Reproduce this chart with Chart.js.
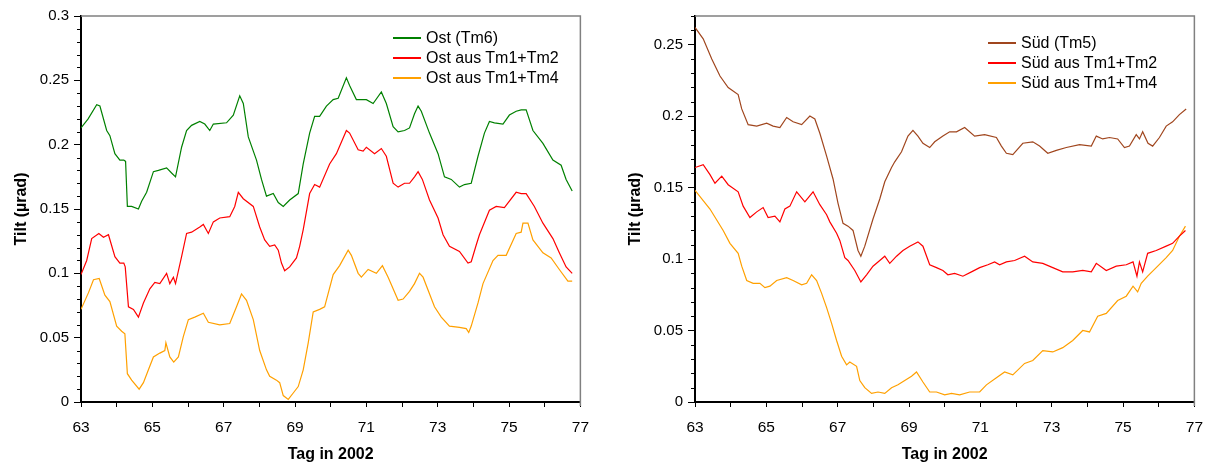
<!DOCTYPE html>
<html>
<head>
<meta charset="utf-8">
<script src="https://cdn.jsdelivr.net/npm/chart.js@4.4.1/dist/chart.umd.min.js"></script>
<style>
  body { margin: 0; background: #fff; width: 1215px; height: 466px; position: relative; overflow: hidden;
         font-family: "Liberation Sans", Arial, sans-serif; }
  canvas { position: absolute; top: 0; }
  #ostChart { left: 0; }
  #suedChart { left: 614px; }
  .legend { position: absolute; font-size: 16px; color: #000; }
  .legend div { position: relative; height: 20px; line-height: 20px; padding-left: 33px; white-space: nowrap; }
  .legend span { position: absolute; left: 0; top: 9px; width: 28px; height: 2px; }
</style>
</head>
<body>
<canvas id="ostChart" width="600" height="466"></canvas>
<canvas id="suedChart" width="600" height="466"></canvas>
<div class="legend" id="ostLegend" style="left:393px; top:28px"></div>
<div class="legend" id="suedLegend" style="left:988px; top:33px"></div>
<script>
// --- Ost (left panel) ---
const ostTm6Days = [
  63.0, 63.2, 63.44, 63.53, 63.72, 63.81, 63.95, 64.09, 64.2, 64.25,
  64.3, 64.42, 64.61, 64.7, 64.84, 65.03, 65.17, 65.4, 65.54, 65.65,
  65.82, 65.96, 66.1, 66.33, 66.47, 66.61, 66.71, 67.08, 67.27, 67.45,
  67.55, 67.69, 67.92, 68.06, 68.2, 68.39, 68.53, 68.67, 68.85, 69.09,
  69.23, 69.41, 69.55, 69.69, 69.88, 70.07, 70.21, 70.44, 70.53, 70.72,
  71.0, 71.19, 71.42, 71.56, 71.75, 71.89, 72.07, 72.21, 72.35, 72.45,
  72.54, 72.77, 73.01, 73.19, 73.38, 73.61, 73.75, 73.94, 74.13, 74.31,
  74.45, 74.59, 74.83, 75.01, 75.2, 75.34, 75.48, 75.67, 75.95, 76.23,
  76.46, 76.6, 76.77
];
const ostTm6 = [
  0.213, 0.220, 0.231, 0.230, 0.211, 0.207, 0.193, 0.188, 0.188, 0.187,
  0.152, 0.152, 0.150, 0.156, 0.163, 0.179, 0.180, 0.182, 0.178, 0.175,
  0.198, 0.211, 0.215, 0.218, 0.216, 0.211, 0.216, 0.217, 0.223, 0.238,
  0.232, 0.206, 0.188, 0.173, 0.160, 0.162, 0.155, 0.152, 0.157, 0.162,
  0.185, 0.209, 0.222, 0.222, 0.230, 0.235, 0.236, 0.252, 0.246, 0.235,
  0.235, 0.232, 0.241, 0.232, 0.214, 0.210, 0.211, 0.213, 0.224, 0.230,
  0.226, 0.209, 0.193, 0.175, 0.173, 0.167, 0.169, 0.170, 0.191, 0.209,
  0.218, 0.217, 0.216, 0.223, 0.226, 0.227, 0.227, 0.211, 0.201, 0.188,
  0.184, 0.173, 0.164
];

const ostTm12Days = [
  63.0, 63.16, 63.3, 63.5, 63.63, 63.77, 63.95, 64.09, 64.2, 64.24,
  64.33, 64.47, 64.61, 64.75, 64.93, 65.07, 65.21, 65.4, 65.49, 65.59,
  65.65, 65.82, 65.96, 66.1, 66.33, 66.43, 66.57, 66.71, 66.89, 67.17,
  67.31, 67.41, 67.55, 67.83, 68.01, 68.15, 68.29, 68.43, 68.53, 68.62,
  68.71, 68.85, 69.04, 69.13, 69.23, 69.41, 69.55, 69.69, 69.97, 70.16,
  70.44, 70.53, 70.77, 70.91, 71.0, 71.23, 71.42, 71.56, 71.75, 71.89,
  72.07, 72.21, 72.35, 72.45, 72.57, 72.77, 73.01, 73.15, 73.33, 73.61,
  73.85, 73.94, 74.08, 74.17, 74.45, 74.64, 74.87, 75.2, 75.34, 75.48,
  75.71, 75.95, 76.23, 76.41, 76.6, 76.77
];
const ostTm12 = [
  0.099, 0.110, 0.127, 0.131, 0.128, 0.130, 0.113, 0.108, 0.108, 0.105,
  0.074, 0.072, 0.066, 0.077, 0.088, 0.093, 0.092, 0.100, 0.092, 0.097,
  0.092, 0.113, 0.131, 0.132, 0.136, 0.138, 0.131, 0.140, 0.143, 0.144,
  0.152, 0.163, 0.158, 0.152, 0.136, 0.126, 0.121, 0.122, 0.118, 0.108,
  0.102, 0.105, 0.112, 0.121, 0.134, 0.162, 0.169, 0.167, 0.185, 0.193,
  0.211, 0.209, 0.196, 0.195, 0.198, 0.193, 0.197, 0.191, 0.170, 0.167,
  0.170, 0.170, 0.175, 0.179, 0.173, 0.157, 0.143, 0.130, 0.121, 0.117,
  0.108, 0.109, 0.122, 0.130, 0.149, 0.152, 0.151, 0.163, 0.162, 0.162,
  0.152, 0.139, 0.127, 0.116, 0.105, 0.100
];

const ostTm14Days = [
  63.0, 63.21, 63.35, 63.51, 63.67, 63.81, 64.0, 64.14, 64.23, 64.3,
  64.42, 64.63, 64.75, 64.89, 65.03, 65.21, 65.35, 65.38, 65.49, 65.6,
  65.73, 65.87, 66.01, 66.19, 66.43, 66.57, 66.89, 67.17, 67.36, 67.5,
  67.64, 67.83, 68.01, 68.2, 68.29, 68.48, 68.57, 68.67, 68.81, 68.95,
  69.09, 69.23, 69.37, 69.51, 69.69, 69.83, 70.07, 70.25, 70.49, 70.58,
  70.77, 70.86, 71.05, 71.28, 71.45, 71.61, 71.89, 72.03, 72.21, 72.35,
  72.49, 72.59, 72.91, 73.1, 73.33, 73.61, 73.8, 73.87, 73.94, 74.13,
  74.27, 74.55, 74.69, 74.92, 75.2, 75.34, 75.39, 75.53, 75.67, 75.95,
  76.18, 76.41, 76.65, 76.77
];
const ostTm14 = [
  0.072, 0.085, 0.095, 0.096, 0.083, 0.078, 0.059, 0.055, 0.053, 0.022,
  0.017, 0.010, 0.015, 0.025, 0.035, 0.038, 0.040, 0.046, 0.035, 0.031,
  0.035, 0.051, 0.064, 0.066, 0.069, 0.062, 0.060, 0.061, 0.074, 0.084,
  0.079, 0.064, 0.040, 0.025, 0.020, 0.017, 0.015, 0.005, 0.002, 0.007,
  0.012, 0.025, 0.046, 0.070, 0.072, 0.074, 0.099, 0.106, 0.118, 0.114,
  0.100, 0.097, 0.103, 0.100, 0.106, 0.097, 0.079, 0.080, 0.086, 0.092,
  0.100, 0.097, 0.074, 0.066, 0.059, 0.058, 0.057, 0.054, 0.059, 0.077,
  0.092, 0.110, 0.114, 0.114, 0.131, 0.132, 0.139, 0.139, 0.126, 0.116,
  0.112, 0.103, 0.094, 0.094
];

// --- Süd (right panel) ---
const suedTm5Days = [
  63.0, 63.23, 63.47, 63.7, 63.93, 64.21, 64.31, 64.49, 64.73, 65.01,
  65.19, 65.38, 65.57, 65.75, 65.99, 66.22, 66.36, 66.5, 66.69, 66.87,
  67.01, 67.15, 67.29, 67.43, 67.57, 67.65, 67.76, 67.99, 68.18, 68.32,
  68.51, 68.6, 68.79, 68.97, 69.11, 69.25, 69.39, 69.58, 69.72, 69.95,
  70.14, 70.33, 70.56, 70.84, 71.12, 71.45, 71.59, 71.73, 71.91, 72.19,
  72.47, 72.66, 72.89, 73.13, 73.41, 73.78, 74.11, 74.25, 74.43, 74.62,
  74.85, 75.04, 75.18, 75.37, 75.46, 75.55, 75.7, 75.83, 76.02, 76.21,
  76.39, 76.58, 76.77
];
const suedTm5 = [
  0.262, 0.254, 0.240, 0.228, 0.220, 0.215, 0.205, 0.194, 0.193, 0.195,
  0.193, 0.192, 0.199, 0.196, 0.194, 0.200, 0.198, 0.188, 0.172, 0.156,
  0.139, 0.125, 0.123, 0.120, 0.106, 0.102, 0.109, 0.128, 0.142, 0.154,
  0.164, 0.168, 0.175, 0.186, 0.190, 0.186, 0.181, 0.178, 0.182, 0.186,
  0.189, 0.189, 0.192, 0.186, 0.187, 0.185, 0.179, 0.174, 0.173, 0.181,
  0.182, 0.179, 0.174, 0.176, 0.178, 0.180, 0.179, 0.186, 0.184, 0.185,
  0.184, 0.178, 0.179, 0.187, 0.184, 0.189, 0.181, 0.179, 0.185, 0.193,
  0.196, 0.201, 0.205
];

const suedTm12Days = [
  63.0, 63.23, 63.42, 63.56, 63.75, 63.93, 64.21, 64.35, 64.54, 64.73,
  64.91, 65.05, 65.24, 65.38, 65.52, 65.66, 65.85, 66.08, 66.31, 66.5,
  66.69, 66.78, 66.97, 67.06, 67.2, 67.29, 67.48, 67.65, 67.81, 67.99,
  68.18, 68.32, 68.46, 68.65, 68.83, 69.02, 69.25, 69.39, 69.58, 69.77,
  69.95, 70.09, 70.28, 70.51, 70.75, 70.98, 71.21, 71.4, 71.54, 71.73,
  71.96, 72.24, 72.47, 72.75, 73.03, 73.31, 73.59, 73.87, 74.11, 74.25,
  74.53, 74.81, 75.09, 75.28, 75.39, 75.46, 75.55, 75.69, 75.93, 76.21,
  76.39, 76.58, 76.75
];
const suedTm12 = [
  0.164, 0.166, 0.159, 0.153, 0.158, 0.152, 0.147, 0.137, 0.129, 0.133,
  0.136, 0.129, 0.130, 0.126, 0.135, 0.137, 0.147, 0.140, 0.147, 0.138,
  0.131, 0.126, 0.118, 0.113, 0.101, 0.099, 0.092, 0.084, 0.089, 0.095,
  0.099, 0.102, 0.097, 0.102, 0.106, 0.109, 0.112, 0.109, 0.096, 0.094,
  0.092, 0.089, 0.090, 0.088, 0.091, 0.094, 0.096, 0.098, 0.096, 0.098,
  0.099, 0.102, 0.098, 0.097, 0.094, 0.091, 0.091, 0.092, 0.091, 0.097,
  0.092, 0.095, 0.096, 0.098, 0.088, 0.098, 0.091, 0.104, 0.106, 0.109,
  0.111, 0.116, 0.120
];

const suedTm14Days = [
  63.0, 63.42, 63.79, 63.98, 64.21, 64.31, 64.45, 64.63, 64.82, 64.96,
  65.1, 65.29, 65.57, 65.75, 65.99, 66.13, 66.27, 66.41, 66.55, 66.69,
  66.83, 66.97, 67.11, 67.25, 67.34, 67.53, 67.62, 67.76, 67.95, 68.13,
  68.32, 68.51, 68.69, 68.88, 69.07, 69.21, 69.39, 69.58, 69.77, 70.0,
  70.19, 70.42, 70.7, 70.98, 71.17, 71.45, 71.68, 71.91, 72.24, 72.47,
  72.75, 73.03, 73.31, 73.59, 73.87, 74.06, 74.29, 74.53, 74.85, 75.09,
  75.28, 75.41, 75.51, 75.69, 75.93, 76.21, 76.39, 76.58, 76.75
];
const suedTm14 = [
  0.148, 0.135, 0.120, 0.111, 0.104, 0.095, 0.085, 0.083, 0.083, 0.080,
  0.081, 0.085, 0.087, 0.085, 0.082, 0.083, 0.089, 0.085, 0.076, 0.066,
  0.055, 0.043, 0.032, 0.026, 0.028, 0.025, 0.015, 0.010, 0.006, 0.007,
  0.006, 0.010, 0.012, 0.015, 0.018, 0.021, 0.014, 0.007, 0.007, 0.005,
  0.006, 0.005, 0.007, 0.007, 0.012, 0.017, 0.021, 0.019, 0.027, 0.029,
  0.036, 0.035, 0.038, 0.043, 0.050, 0.049, 0.060, 0.062, 0.071, 0.074,
  0.081, 0.077, 0.083, 0.088, 0.094, 0.101, 0.106, 0.116, 0.123
];

Chart.defaults.font.family = '"Liberation Sans", Arial, sans-serif';
Chart.defaults.color = '#000';

const toPoints = (days, vals) => days.map((d, i) => ({ x: d, y: vals[i] }));

// short minor ticks every 0.01 on y, grey top/right frame
const frame = {
  id: 'frame',
  afterDraw(chart) {
    const { ctx, chartArea: a } = chart;
    const y = chart.scales.y;
    ctx.save();
    ctx.strokeStyle = '#000';
    ctx.lineWidth = 1;
    for (let i = 0; i <= Math.round(y.max * 100); i++) {
      if (i % 5 === 0) continue;
      const py = Math.round(y.getPixelForValue(i / 100)) + 0.5;
      ctx.beginPath();
      ctx.moveTo(a.left - 4, py);
      ctx.lineTo(a.left, py);
      ctx.stroke();
    }
    ctx.strokeStyle = '#808080';
    ctx.lineWidth = 1.5;
    ctx.beginPath();
    ctx.moveTo(a.left, a.top);
    ctx.lineTo(a.right, a.top);
    ctx.lineTo(a.right, a.bottom + 4);
    ctx.stroke();
    ctx.restore();
  }
};

function makeChart(canvasId, legendId, series, yMax) {
  const chart = new Chart(document.getElementById(canvasId), {
    type: 'line',
    data: {
      datasets: series.map(s => ({
        label: s.label,
        data: toPoints(s.days, s.vals),
        borderColor: s.color,
        borderWidth: 1.2,
        pointRadius: 0,
        tension: 0,
        fill: false
      }))
    },
    options: {
      responsive: false,
      animation: false,
      devicePixelRatio: 1,
      layout: { padding: { left: 0, top: 16, right: 19, bottom: 0 } },
      plugins: { legend: { display: false }, tooltip: { enabled: false } },
      scales: {
        x: {
          type: 'linear', min: 63, max: 77,
          ticks: {
            stepSize: 1, autoSkip: false, maxRotation: 0, padding: 11,
            font: { size: 15.5 },
            callback: v => (v % 2 ? v : '')
          },
          grid: { drawOnChartArea: false, color: '#000', tickLength: 5 },
          border: { color: '#000', width: 2 },
          title: { display: true, text: 'Tag in 2002', font: { size: 16, weight: 'bold' }, padding: { top: 0, bottom: 2 } },
          afterFit: s => { s.height = 64; }
        },
        y: {
          min: 0, max: yMax,
          ticks: {
            stepSize: 0.05, includeBounds: false, padding: 5,
            font: { size: 15 },
            callback: v => +v.toFixed(2)
          },
          grid: { drawOnChartArea: false, color: '#000', tickLength: 7 },
          border: { color: '#000', width: 2 },
          title: { display: true, text: 'Tilt (µrad)', font: { size: 16, weight: 'bold' }, padding: { top: 12, bottom: 0 } },
          afterFit: s => { s.width = 81; }
        }
      }
    },
    plugins: [frame]
  });

  const legend = document.getElementById(legendId);
  chart.data.datasets.forEach(ds => {
    const row = document.createElement('div');
    const line = document.createElement('span');
    line.style.background = ds.borderColor;
    row.appendChild(line);
    row.appendChild(document.createTextNode(ds.label));
    legend.appendChild(row);
  });
  return chart;
}

makeChart('ostChart', 'ostLegend', [
  { label: 'Ost (Tm6)', days: ostTm6Days, vals: ostTm6, color: '#008000' },
  { label: 'Ost aus Tm1+Tm2', days: ostTm12Days, vals: ostTm12, color: '#ff0000' },
  { label: 'Ost aus Tm1+Tm4', days: ostTm14Days, vals: ostTm14, color: '#ffa000' }
], 0.3);

makeChart('suedChart', 'suedLegend', [
  { label: 'Süd (Tm5)', days: suedTm5Days, vals: suedTm5, color: '#a0461e' },
  { label: 'Süd aus Tm1+Tm2', days: suedTm12Days, vals: suedTm12, color: '#ff0000' },
  { label: 'Süd aus Tm1+Tm4', days: suedTm14Days, vals: suedTm14, color: '#ffa000' }
], 0.27);
</script>
</body>
</html>
